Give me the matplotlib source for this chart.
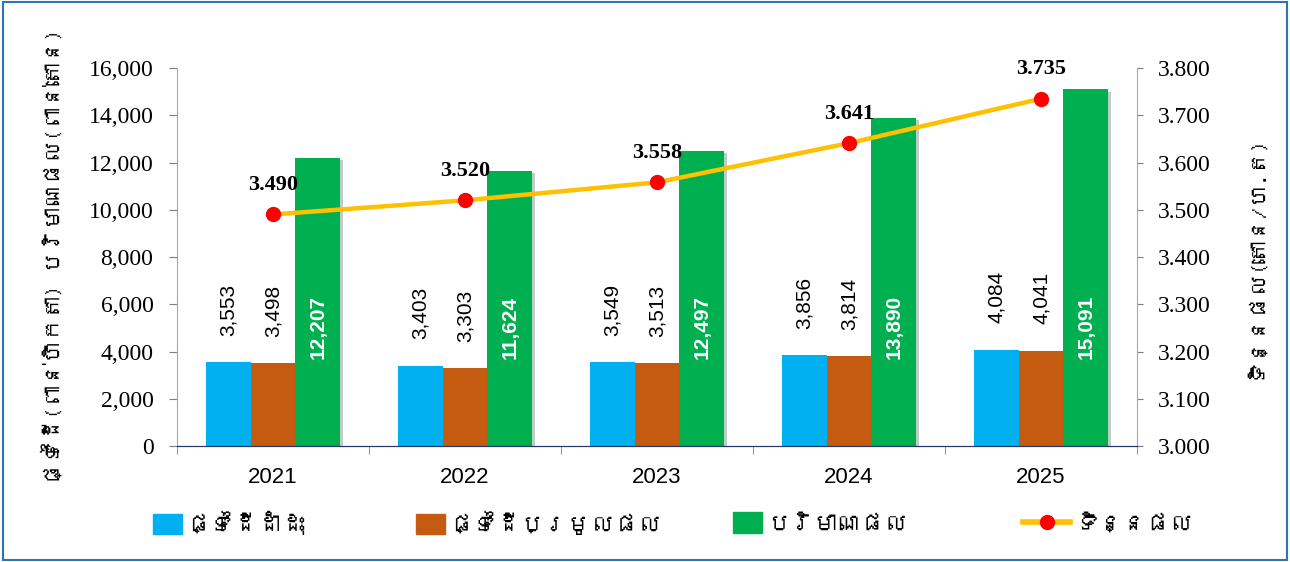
import matplotlib
matplotlib.use("Agg")
import matplotlib.pyplot as plt
import numpy as np
from matplotlib import font_manager
from matplotlib.ft2font import FT2Font
from matplotlib.patches import Patch, Rectangle
from matplotlib.lines import Line2D
import matplotlib.patheffects as pe

years = ["2021", "2022", "2023", "2024", "2025"]
planted = [3553, 3403, 3549, 3856, 4084]
harvested = [3498, 3303, 3513, 3814, 4041]
production = [12207, 11624, 12497, 13890, 15091]
yield_t = [3.490, 3.520, 3.558, 3.641, 3.735]

series_names = ["ផ្ទៃដីដាំដុះ", "ផ្ទៃដីប្រមូលផល", "បរិមាណផល", "ទិន្នផល"]
left_label = "ផ្ទៃដី(ពាន់ហិកតា) បរិមាណផល(ពាន់តោន)"
right_label = "ទិន្នផល(តោន/ហ.ត)"

# find a font with Khmer glyphs if any
khmer_family = None
for fe in font_manager.fontManager.ttflist:
    try:
        cm = FT2Font(fe.fname).get_charmap()
        if 0x1780 in cm and 0x17D2 in cm:
            khmer_family = fe.name
            break
    except Exception:
        pass
kfam = ([khmer_family] if khmer_family else []) + ["DejaVu Sans"]

c_blue = "#00B0F0"
c_brown = "#C55A11"
c_green = "#00B050"
c_line = "#FFC000"
c_mark = "#FF0000"

fig = plt.figure(figsize=(12.9, 5.62), dpi=100)
fig.patches.append(Rectangle((0.002, 0.003), 0.996, 0.994, transform=fig.transFigure,
                             fill=False, edgecolor="#2E75B6", linewidth=1.5))
ax = fig.add_axes([0.1372, 0.2064, 0.7442, 0.6726])
ax2 = ax.twinx()

x = np.arange(len(years))
w = 0.234
shadow = [pe.SimplePatchShadow(offset=(2, -1.5), alpha=0.25), pe.Normal()]
b1 = ax.bar(x - w, planted, w, color=c_blue, zorder=2)
b2 = ax.bar(x, harvested, w, color=c_brown, zorder=2)
b3 = ax.bar(x + w, production, w, color=c_green, zorder=2)
for bars in (b1, b2, b3):
    for r in bars:
        r.set_path_effects(shadow)

ax.set_xlim(-0.5, len(years) - 0.5)
ax.set_ylim(0, 16000)
ax.set_yticks(np.arange(0, 16001, 2000))
ax.set_yticklabels([f"{v:,}" for v in range(0, 16001, 2000)], family="Liberation Serif", fontsize=17)
ax.set_xticks(x)
ax.set_xticklabels(years, family="Liberation Sans", fontsize=16)
ax.set_xticks(np.arange(-0.5, len(years), 1), minor=True)
ax.tick_params(axis="x", which="major", length=0, pad=15)
ax.tick_params(axis="x", which="minor", length=6, color="#7F7F7F", direction="out")
ax.tick_params(axis="y", length=6, color="#7F7F7F", pad=11)

for s in ["top"]:
    ax.spines[s].set_visible(False)
    ax2.spines[s].set_visible(False)
ax.spines["left"].set_color("#A6A6A6")
ax2.spines["left"].set_visible(False)
ax2.spines["right"].set_color("#A6A6A6")
ax.spines["bottom"].set_color("#1F3864")
ax2.spines["bottom"].set_color("#1F3864")
ax.spines["right"].set_visible(False)

for xi, v in zip(x - w, planted):
    ax.annotate(f"{v:,}", (xi, v), xytext=(0, 19), textcoords="offset points",
                rotation=90, ha="center", va="bottom", fontsize=15, family="Liberation Sans")
for xi, v in zip(x, harvested):
    ax.annotate(f"{v:,}", (xi, v), xytext=(0, 19), textcoords="offset points",
                rotation=90, ha="center", va="bottom", fontsize=15, family="Liberation Sans")
for xi, v in zip(x + w, production):
    ax.text(xi, 3700, f"{v:,}", rotation=90, ha="center", va="bottom", fontsize=15,
            family="Liberation Sans", fontweight="bold", color="white", zorder=3)

ax2.plot(x, yield_t, color=c_line, linewidth=3.2, marker="o", markersize=10,
         markerfacecolor=c_mark, markeredgecolor=c_mark, zorder=4)
ax2.set_ylim(3.0, 3.8)
ax2.set_yticks(np.arange(3.0, 3.801, 0.1))
ax2.set_yticklabels([f"{v:.3f}" for v in np.arange(3.0, 3.801, 0.1)], family="Liberation Serif", fontsize=17)
ax2.tick_params(axis="y", length=4, color="#7F7F7F", pad=11)
for xi, v in zip(x, yield_t):
    ax2.annotate(f"{v:.3f}", (xi, v), xytext=(0, 14), textcoords="offset points",
                 ha="center", va="bottom", fontsize=16, family="Liberation Serif", fontweight="bold")

ax.set_ylabel(left_label, family=kfam, fontsize=16, labelpad=18)
ax2.set_ylabel(right_label, family=kfam, fontsize=16, labelpad=24)
ax.set_zorder(1)
ax2.set_zorder(2)
ax2.patch.set_visible(False)

handles = [Patch(color=c_blue), Patch(color=c_brown), Patch(color=c_green),
           Line2D([], [], color=c_line, linewidth=4, marker="o", markersize=10,
                  markerfacecolor=c_mark, markeredgecolor=c_mark)]
xpos = [147, 410, 727, 1017]
for h, name, xp in zip(handles, series_names, xpos):
    hl = 2.0 if isinstance(h, Line2D) else 1.2
    fig.legend([h], [name], loc="center left", bbox_to_anchor=(xp / 1290 - 0.008, 1 - 523 / 562),
               frameon=False, prop={"family": kfam, "size": 17}, handlelength=hl,
               handleheight=0.95, handletextpad=0.2, borderpad=0.2)

fig.savefig("out.png", dpi=100)
